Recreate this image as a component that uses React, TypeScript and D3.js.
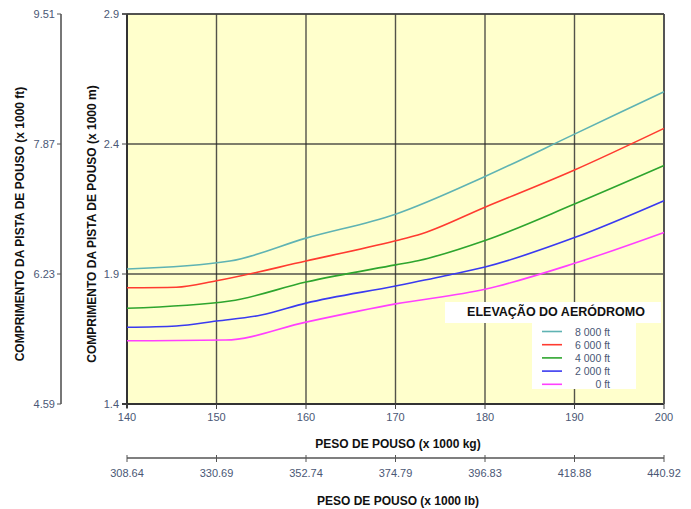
import React from "react";
import * as d3 from "d3";

const kgTicks = [140, 150, 160, 170, 180, 190, 200];
const lbTickLabels = ["308.64", "330.69", "352.74", "374.79", "396.83", "418.88", "440.92"];
const mTicks = [1.4, 1.9, 2.4, 2.9];
const ftTickLabels = ["4.59", "6.23", "7.87", "9.51"];

const seriesNames = ["8 000 ft", "6 000 ft", "4 000 ft", "2 000 ft", "0 ft"];
const seriesColors = ["#5fb3b3", "#ff3b30", "#2ea52e", "#3a3af0", "#ff40ff"];

const x8000 = [140, 151.5, 160, 170, 180, 190, 200];
const y8000 = [1.919, 1.95, 2.038, 2.13, 2.275, 2.438, 2.601];
const x6000 = [140, 145.5, 150, 160, 170, 172.5, 180, 190, 200];
const y6000 = [1.847, 1.849, 1.874, 1.95, 2.028, 2.05, 2.157, 2.3, 2.46];
const x4000 = [140, 151.5, 160, 170, 172.5, 180, 190, 200];
const y4000 = [1.768, 1.796, 1.869, 1.935, 1.951, 2.029, 2.169, 2.317];
const x2000 = [140, 145.5, 150, 155, 160, 170, 176, 180, 190, 200];
const y2000 = [1.695, 1.7, 1.719, 1.742, 1.788, 1.854, 1.896, 1.927, 2.04, 2.182];
const x0 = [140, 151, 160, 170, 180, 190, 200];
const y0 = [1.643, 1.646, 1.715, 1.785, 1.841, 1.941, 2.06];

const seriesX = [x8000, x6000, x4000, x2000, x0];
const seriesY = [y8000, y6000, y4000, y2000, y0];

export default function App() {
  const W = 691, H = 509;
  const left = 127, right = 664, top = 14, bottom = 404;
  const x = d3.scaleLinear().domain([140, 200]).range([left, right]);
  const y = d3.scaleLinear().domain([1.4, 2.9]).range([bottom, top]);
  const line = d3
    .line<[number, number]>()
    .x((d) => x(d[0]))
    .y((d) => y(d[1]))
    .curve(d3.curveMonotoneX);

  const font = "Liberation Sans, Arial, Helvetica, sans-serif";
  const tickColor = "#4a5775";
  const gridColor = "rgba(40,40,40,0.8)";

  return (
    <svg
      width={W}
      height={H}
      style={{ position: "absolute", left: 0, top: 0 }}
      fontFamily={font}
    >
      <rect x={0} y={0} width={W} height={H} fill="#fff" />
      {/* plot background */}
      <rect x={left} y={top} width={right - left} height={bottom - top} fill="#ffffcc" />
      {/* vertical grid */}
      {kgTicks.map((t) => (
        <line key={"vg" + t} x1={x(t)} x2={x(t)} y1={top} y2={bottom} stroke={gridColor} strokeWidth={1.4} />
      ))}
      {/* horizontal grid */}
      {mTicks.map((t) => (
        <line key={"hg" + t} x1={left} x2={right} y1={y(t)} y2={y(t)} stroke={gridColor} strokeWidth={1.4} />
      ))}
      {/* frame left & bottom heavier */}
      <line x1={left} x2={left} y1={top} y2={bottom + 4} stroke="#333" strokeWidth={2} />
      <line x1={left - 5} x2={right} y1={bottom} y2={bottom} stroke="#333" strokeWidth={2} />
      <line x1={right} x2={right} y1={top} y2={bottom} stroke="#555" strokeWidth={2} />
      <line x1={left - 5} x2={right} y1={top} y2={top} stroke="#444" strokeWidth={1.6} />

      {/* series */}
      {seriesX.map((xs, i) => (
        <path
          key={"s" + i}
          d={line(xs.map((v, j) => [v, seriesY[i][j]]) as [number, number][]) || ""}
          fill="none"
          stroke={seriesColors[i]}
          strokeWidth={1.6}
        />
      ))}

      {/* m axis ticks/labels */}
      {mTicks.map((t) => (
        <g key={"mt" + t}>
          <line x1={left - 5} x2={left} y1={y(t)} y2={y(t)} stroke="#444" strokeWidth={1} />
          <text x={left - 8} y={y(t) + 4} textAnchor="end" fontSize={11} fill={tickColor}>
            {String(t)}
          </text>
        </g>
      ))}
      {/* ft axis */}
      <line x1={61} x2={61} y1={top} y2={bottom} stroke="#555" strokeWidth={1.6} />
      {mTicks.map((t, i) => (
        <g key={"ft" + t}>
          <line x1={57} x2={61} y1={y(t)} y2={y(t)} stroke="#555" strokeWidth={1} />
          <text x={55} y={y(t) + 4} textAnchor="end" fontSize={11} fill={tickColor}>
            {ftTickLabels[i]}
          </text>
        </g>
      ))}
      {/* y titles */}
      <text
        transform={`translate(24,224) rotate(-90)`}
        textAnchor="middle"
        fontSize={12}
        fontWeight="bold"
        fill="#111"
      >
        COMPRIMENTO DA PISTA DE POUSO (x 1000 ft)
      </text>
      <text
        transform={`translate(96,224) rotate(-90)`}
        textAnchor="middle"
        fontSize={12}
        fontWeight="bold"
        fill="#111"
      >
        COMPRIMENTO DA PISTA DE POUSO (x 1000 m)
      </text>

      {/* kg axis */}
      {kgTicks.map((t) => (
        <g key={"kt" + t}>
          <line x1={x(t)} x2={x(t)} y1={bottom} y2={bottom + 5} stroke="#444" strokeWidth={1} />
          <text x={x(t)} y={421} textAnchor="middle" fontSize={11} fill={tickColor}>
            {String(t)}
          </text>
        </g>
      ))}
      <text x={398} y={448} textAnchor="middle" fontSize={12} fontWeight="bold" fill="#111">
        PESO DE POUSO (x 1000 kg)
      </text>

      {/* lb axis */}
      <line x1={left} x2={right} y1={458} y2={458} stroke="#555" strokeWidth={1.6} />
      {kgTicks.map((t, i) => (
        <g key={"lb" + t}>
          <line x1={x(t)} x2={x(t)} y1={455} y2={462} stroke="#555" strokeWidth={1} />
          <text x={x(t)} y={477} textAnchor="middle" fontSize={11} fill={tickColor}>
            {lbTickLabels[i]}
          </text>
        </g>
      ))}
      <text x={398} y={505} textAnchor="middle" fontSize={12} fontWeight="bold" fill="#111">
        PESO DE POUSO (x 1000 lb)
      </text>

      {/* legend */}
      <rect x={445} y={302} width={216} height={21} fill="#fff" />
      <text x={556} y={316} textAnchor="middle" fontSize={12.5} fontWeight="bold" fill="#111">
        ELEVAÇÃO DO AERÓDROMO
      </text>
      <rect x={532} y={322} width={104} height={67} fill="#fff" />
      {seriesNames.map((n, i) => (
        <g key={"lg" + i}>
          <line
            x1={542}
            x2={562}
            y1={331.5 + i * 13.2}
            y2={331.5 + i * 13.2}
            stroke={seriesColors[i]}
            strokeWidth={1.6}
          />
          <text x={610} y={335.5 + i * 13.2} textAnchor="end" fontSize={10.5} fill={tickColor}>
            {n}
          </text>
        </g>
      ))}
    </svg>
  );
}
